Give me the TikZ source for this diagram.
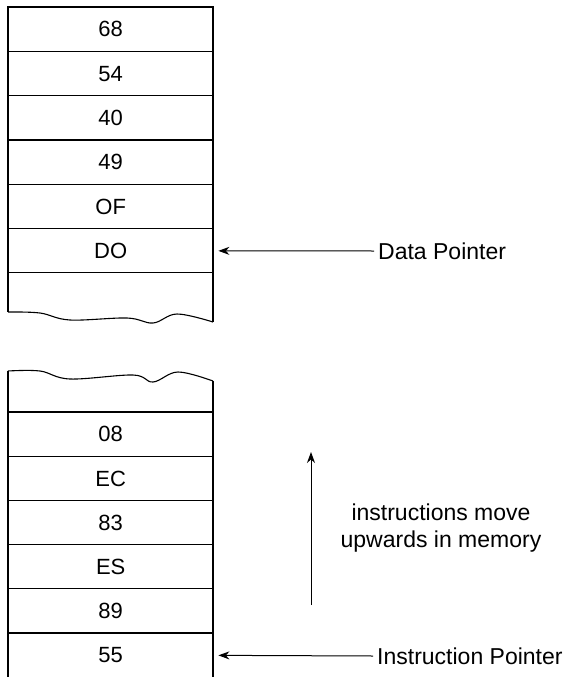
\documentclass[tikz,border=0pt]{standalone}
\usepackage{fontspec}
\setmainfont{Liberation Sans}
\usetikzlibrary{arrows.meta}
\begin{document}
\begin{tikzpicture}[x=1pt,y=-1pt,
  cell/.style={minimum width=205pt,minimum height=44.3pt,inner sep=0pt,anchor=north west,font=\fontsize{22}{26}\selectfont},
  boxline/.style={line width=1.3pt},
  ptr/.style={line width=1pt,-{Stealth[length=11pt,width=8pt]}},
  lbl/.style={font=\fontsize{23}{27}\selectfont,inner sep=0pt}]
\useasboundingbox (0,0) rectangle (570,677);
% top box cells
\node[cell] (c68) at (8,7) {68};
\node[cell] (c54) at (8,51.3) {54};
\node[cell] (c40) at (8,95.6) {40};
\node[cell] (c49) at (8,139.9) {49};
\node[cell] (c0F) at (8,184.2) {OF};
\node[cell] (cD0) at (8,228.5) {DO};
% top box outline
\draw[boxline] (8,312) -- (8,7) -- (213,7) -- (213,322);
\foreach \yy in {51.3,95.6,139.9,184.2,228.5,272.8} \draw[boxline] (8,\yy) -- (213,\yy);
\draw[line width=1.1pt] plot[smooth,tension=0.6] coordinates {(8,312) (40,313) (70,320) (127,318) (153,323) (177,314) (213,322)};
% bottom box cells
\node[cell] (c08) at (8,412) {08};
\node[cell] (cEC) at (8,456.2) {EC};
\node[cell] (c83) at (8,500.4) {83};
\node[cell] (cES) at (8,544.6) {ES};
\node[cell] (c89) at (8,588.8) {89};
\node[cell] (c55) at (8,633) {55};
\draw[line width=1.1pt] plot[smooth,tension=0.6] coordinates {(8,371) (40,371) (70,379) (133,375) (153,382) (178,372) (213,381)};
\draw[boxline] (8,371) -- (8,690);
\draw[boxline] (213,381) -- (213,690);
\foreach \yy in {412,456.2,500.4,544.6,588.8,633} \draw[boxline] (8,\yy) -- (213,\yy);
% pointers
\node[lbl,anchor=west] (dp) at (378,251) {Data Pointer};
\node[lbl,anchor=west] (ip) at (377,656) {Instruction Pointer};
\draw[ptr] ([xshift=-4pt]dp.west) -- ([xshift=5pt]cD0.east);
\draw[ptr] ([xshift=-4pt]ip.west) -- ([xshift=5pt]c55.east);
% upward arrow
\coordinate (up0) at (311,605);
\coordinate (up1) at (311,452);
\draw[ptr] (up0) -- (up1);
\node[lbl,align=center] (note) at (441,528) {instructions move\\upwards in memory};
\end{tikzpicture}
\end{document}
